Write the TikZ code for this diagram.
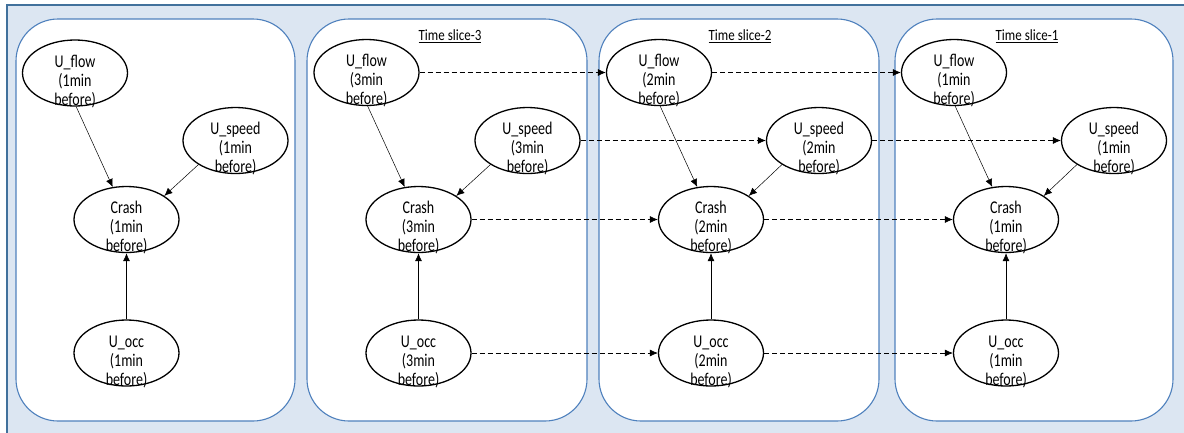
\documentclass[tikz,border=0pt]{standalone}
\usepackage{fontspec}
\setmainfont{Carlito}
\usetikzlibrary{arrows.meta,shapes.geometric}
\definecolor{bgblue}{HTML}{DCE6F2}
\definecolor{edgeblue}{HTML}{41719C}
\definecolor{panelblue}{HTML}{4F81BD}
\tikzset{
  ell/.style={ellipse, draw=black, line width=1.3pt, minimum width=105pt, minimum height=66pt, inner sep=0pt, fill=white},
  lbl/.style={font=\fontsize{14}{14.8}\selectfont, inner sep=0pt, yshift=-9.5pt},
  panel/.style={draw=panelblue, line width=1.1pt, fill=white, rounded corners=42pt},
  title/.style={font=\fontsize{13}{15}\selectfont, inner sep=0pt},
  solidarr/.style={-{Latex[length=8pt,width=7pt]}, line width=0.5pt, draw=black},
  occarr/.style={-{Latex[length=8pt,width=7pt]}, line width=0.6pt, draw=black!65, color=black},
  dasharr/.style={-{Latex[length=8pt,width=7pt]}, line width=0.6pt, dash pattern=on 5pt off 3pt}
}
\newcommand{\bnnode}[4]{\node[ell, label={[lbl]center:{\scalebox{1}[1.28]{\begin{tabular}{@{}c@{}}\vphantom{Ulf}#3\\(#4min\\before)\end{tabular}}}}] (#1) at (#2) {};}
\newcommand{\slicetitle}[1]{\scalebox{1}[1.2]{\underline{#1}}}
\begin{document}
\begin{tikzpicture}[x=1pt,y=-1pt]
\useasboundingbox (0,0) rectangle (1184,432);
\clip (0,0) rectangle (1184,432);
\fill[white] (0,0) rectangle (1184,432);
\draw[fill=bgblue, draw=edgeblue, line width=1.2pt] (7,5) rectangle (1200,450);
% panels
\draw[panel] (16,19) rectangle (295,421);
\draw[panel] (307,19) rectangle (587,421);
\draw[panel] (599,19) rectangle (879,421);
\draw[panel] (895,19) rectangle (1173,421);
% titles
\node[title] (t3) at (450,36) {\slicetitle{Time slice-3}};
\node[title] (t2) at (740,36) {\slicetitle{Time slice-2}};
\node[title] (t1) at (1027,36) {\slicetitle{Time slice-1}};
% panel 1
\bnnode{fa}{75,73}{U\_flow}{1}
\bnnode{sa}{235.5,140.5}{U\_speed}{1}
\bnnode{ca}{126.5,219.5}{Crash}{1}
\bnnode{oa}{126.5,353}{U\_occ}{1}
% panel 2
\bnnode{fb}{366.5,72.5}{U\_flow}{3}
\bnnode{sb}{527.5,140.5}{U\_speed}{3}
\bnnode{cb}{418.5,219.5}{Crash}{3}
\bnnode{ob}{418.5,353}{U\_occ}{3}
% panel 3
\bnnode{fc}{659,72.5}{U\_flow}{2}
\bnnode{sc}{819,140.5}{U\_speed}{2}
\bnnode{cc}{711,219.5}{Crash}{2}
\bnnode{oc}{711,353}{U\_occ}{2}
% panel 4
\bnnode{fd}{954,72.5}{U\_flow}{1}
\bnnode{sd}{1114,140.5}{U\_speed}{1}
\bnnode{cd}{1006,219.5}{Crash}{1}
\bnnode{od}{1006,353}{U\_occ}{1}
% intra-slice arrows
\foreach \p in {a,b,c,d}{
  \draw[solidarr] (f\p.-88) -- (c\p.113);
  \draw[solidarr] (s\p.213) -- (c\p.32);
  \draw[occarr] (o\p) -- (c\p);
}
% inter-slice arrows
\draw[dasharr] (fb.east) -- (fc.west);
\draw[dasharr] (fc.east) -- (fd.west);
\draw[dasharr] (sb.east) -- (sc.west);
\draw[dasharr] (sc.east) -- (sd.west);
\draw[dasharr] (cb.east) -- (cc.west);
\draw[dasharr] (cc.east) -- (cd.west);
\draw[dasharr] (ob.east) -- (oc.west);
\draw[dasharr] (oc.east) -- (od.west);
\end{tikzpicture}
\end{document}
